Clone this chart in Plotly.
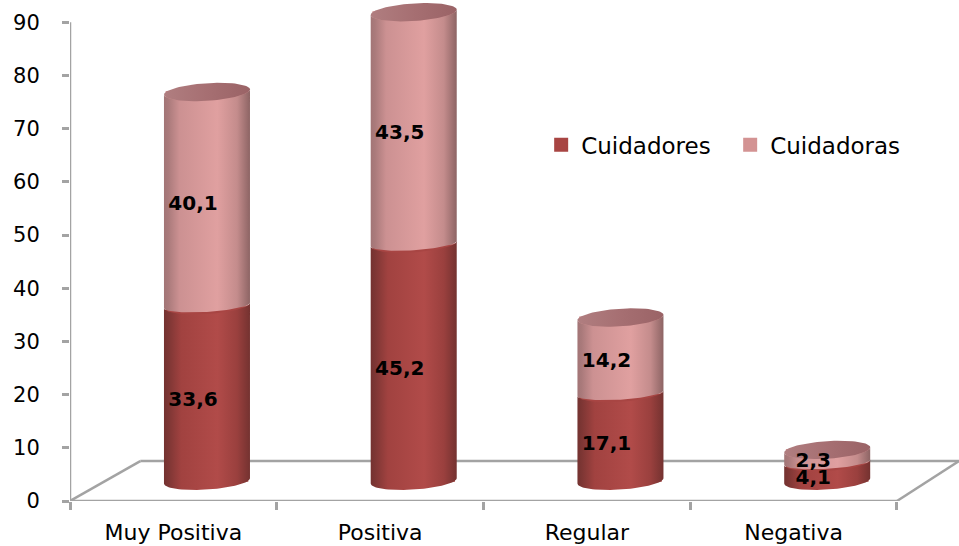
import numpy as np
import plotly.graph_objects as go

categories = ["Muy Positiva", "Positiva", "Regular", "Negativa"]
cuidadores = [33.6, 45.2, 17.1, 4.1]
cuidadoras = [40.1, 43.5, 14.2, 2.3]
cuidadores_lbl = ["33,6", "45,2", "17,1", "4,1"]
cuidadoras_lbl = ["40,1", "43,5", "14,2", "2,3"]
y_ticks = list(range(0, 100, 10))

# 3-D projection of the original chart, in axis units
LIFT = 3.2        # floor offset of bar bases
FOOT = 0.6        # the curved foot sits slightly higher than the lift
SHIFT = 0.1625    # depth shift of bars
HALF = 0.208      # cylinder half width
B = 1.65          # ellipse semi-minor
B_JOIN = 1.25     # semi-minor of the join between the two segments
TILT = 0.5        # ellipse tilt
FLOOR_Y = 7.5
FLOOR_DX = 0.34

RED_GRAD = [[0, "#743230"], [0.05, "#7d3634"], [0.2, "#a14240"], [0.62, "#b14b49"], [0.85, "#9a403e"], [1, "#743230"]]
PINK_GRAD = [[0, "#a27576"], [0.05, "#aa7a7b"], [0.18, "#cc9192"], [0.62, "#e0a0a0"], [0.85, "#c48c8c"], [1, "#8d6464"]]
CAP_GRAD = [[0, "#b07e80"], [0.5, "#a66f72"], [1, "#9a6366"]]

th = np.linspace(0, np.pi, 41)


def arc(cx, cy, semi, reverse=False):
    x = cx + HALF * np.cos(th)
    y = cy - semi * np.sin(th) + TILT * np.cos(th)
    return (x[::-1], y[::-1]) if reverse else (x, y)


def body(cx, y0, y1, semi0, grad):
    xa, ya = arc(cx, y0, semi0, reverse=True)   # bottom arc, left to right
    xb, yb = arc(cx, y1, B)                     # top arc, right to left
    return go.Scatter(
        x=np.r_[xa, xb, xa[0]], y=np.r_[ya, yb, ya[0]], mode="lines",
        line=dict(width=0), fill="toself",
        fillgradient=dict(type="horizontal", colorscale=grad),
        showlegend=False, hoverinfo="skip",
    )


def cap(cx, cy, grad):
    t = np.linspace(0, 2 * np.pi, 81)
    return go.Scatter(
        x=cx + HALF * np.cos(t), y=cy - B * np.sin(t) + TILT * np.cos(t),
        mode="lines", line=dict(width=0), fill="toself",
        fillgradient=dict(type="horizontal", colorscale=grad),
        showlegend=False, hoverinfo="skip",
    )


idx = np.arange(len(categories))
xbar = idx + SHIFT
red = np.array(cuidadores)
pink = np.array(cuidadoras)

fig = go.Figure()
fig.add_bar(x=xbar, y=red - FOOT, base=[LIFT + FOOT] * 4, width=0.39, name="Cuidadores",
            marker=dict(color="#a84543", line=dict(color="#a84543", width=2)))
fig.add_bar(x=xbar, y=pink, base=LIFT + red, width=0.39, name="Cuidadoras",
            marker=dict(color="#d39393", line=dict(color="#d39393", width=2)))

for i in idx:
    fig.add_trace(body(xbar[i], LIFT + FOOT, LIFT + red[i], B, RED_GRAD))
for i in idx:
    fig.add_trace(body(xbar[i], LIFT + red[i], LIFT + red[i] + pink[i], B_JOIN, PINK_GRAD))
for i in idx:
    fig.add_trace(cap(xbar[i], LIFT + red[i] + pink[i], CAP_GRAD))

LABEL_FONT = dict(family="DejaVu Sans", size=20, color="#000000", weight="bold")
fig.add_trace(go.Scatter(
    x=idx + 0.095, y=LIFT + red / 2 - 1.2, text=cuidadores_lbl, mode="text",
    textfont=LABEL_FONT, showlegend=False, hoverinfo="skip"))
fig.add_trace(go.Scatter(
    x=idx + 0.095, y=LIFT + red + pink / 2 - 1.2, text=cuidadoras_lbl, mode="text",
    textfont=LABEL_FONT, showlegend=False, hoverinfo="skip"))

GRAY = dict(color="#a3a3a3", width=2.5)
floor = [
    ((-0.5, 0), (3.5, 0)),
    ((-0.5, 0), (-0.5, 90)),
    ((-0.5, 0), (-0.5 + FLOOR_DX, FLOOR_Y)),
    ((-0.5 + FLOOR_DX, FLOOR_Y), (3.8, FLOOR_Y)),
    ((3.5, 0), (3.8, FLOOR_Y)),
]
for (a, b), (c, d) in floor:
    fig.add_shape(type="line", x0=a, y0=b, x1=c, y1=d, xref="x", yref="y",
                  line=GRAY, layer="below")

fig.update_layout(
    width=959, height=546, autosize=False, barmode="overlay",
    margin=dict(l=70, r=0, t=0, b=45),
    paper_bgcolor="white", plot_bgcolor="white",
    font=dict(family="DejaVu Sans", size=21, color="#000000"),
    legend=dict(orientation="h", x=0.53, y=0.711, xanchor="left", yanchor="middle",
                font=dict(size=23), bgcolor="rgba(0,0,0,0)", entrywidth=144,
                entrywidthmode="pixels", traceorder="normal"),
    xaxis=dict(range=[-0.5, 3.8], tickmode="array", tickvals=list(idx),
               ticktext=categories, showgrid=False, zeroline=False, showline=False,
               ticks="", ticklabelstandoff=16, tickfont=dict(size=22),
               minor=dict(tickmode="array", tickvals=[-0.5, 0.5, 1.5, 2.5, 3.5],
                          ticks="outside", ticklen=8, tickwidth=2.5, tickcolor="#a3a3a3",
                          showgrid=False)),
    yaxis=dict(range=[0, 94.2], tickmode="array", tickvals=y_ticks, showgrid=False,
               zeroline=False, showline=False, ticks="outside", ticklen=7, tickwidth=2.5,
               tickcolor="#a3a3a3", ticklabelstandoff=18),
)

fig.write_html(
    "out.html",
    config={"displayModeBar": False},
    post_script="document.body.style.margin='0';document.documentElement.style.overflow='hidden';",
)
